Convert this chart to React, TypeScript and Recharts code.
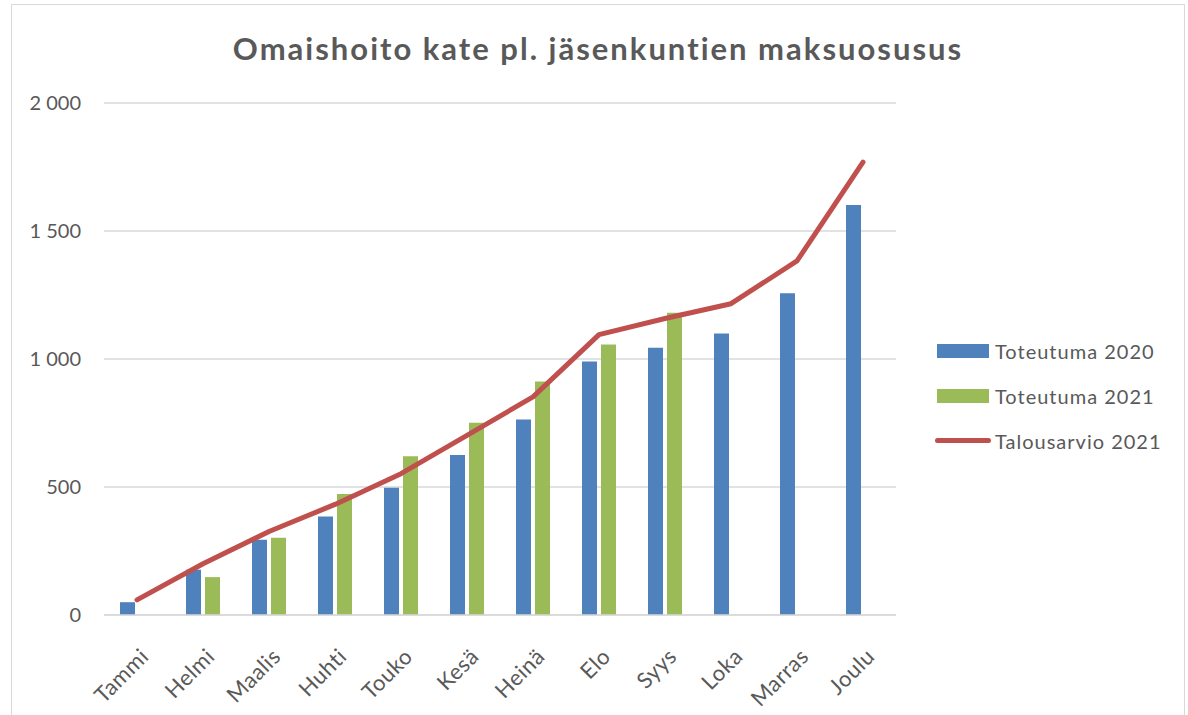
import React from 'react';
import { ComposedChart, Bar, Line, XAxis, YAxis, CartesianGrid, Legend } from 'recharts';

const months = ['Tammi', 'Helmi', 'Maalis', 'Huhti', 'Touko', 'Kesä', 'Heinä', 'Elo', 'Syys', 'Loka', 'Marras', 'Joulu'];
const toteutuma2020 = [50, 177, 294, 385, 497, 625, 764, 990, 1044, 1100, 1257, 1602];
const toteutuma2021: (number | null)[] = [null, 148, 302, 473, 620, 751, 912, 1057, 1181, null, null, null];
const talousarvio2021 = [59, 200, 326, 432, 552, 702, 852, 1095, 1158, 1216, 1383, 1769];
const yTicks = [0, 500, 1000, 1500, 2000];

const data = months.map((m, i) => ({
  month: m,
  t2020: toteutuma2020[i],
  t2021: toteutuma2021[i],
  ta2021: talousarvio2021[i],
}));

const TEXT = '#595959';
const FONT = 'Lato, "Open Sans", sans-serif';

const fmt = (v: number) => String(v).replace(/\B(?=(\d{3})+(?!\d))/g, ' ');

const XTick = (props: any) => {
  const { x, y, payload } = props;
  return (
    <text
      transform={`translate(${x + 7}, ${y + 29}) rotate(-45)`}
      textAnchor="end"
      dominantBaseline="central"
      fill={TEXT}
      fontSize={22}
      letterSpacing={0.5}
      fontFamily={FONT}
    >
      {payload.value}
    </text>
  );
};

const legendItems = [
  { label: 'Toteutuma 2020', color: '#4F81BD', type: 'bar' },
  { label: 'Toteutuma 2021', color: '#9BBB59', type: 'bar' },
  { label: 'Talousarvio 2021', color: '#C0504D', type: 'line' },
];

const LegendContent = () => (
  <div style={{ fontFamily: FONT }}>
    {legendItems.map((it) => (
      <div key={it.label} style={{ display: 'flex', alignItems: 'center', height: 45 }}>
        {it.type === 'bar' ? (
          <div style={{ width: 52, height: 14, background: it.color }} />
        ) : (
          <div style={{ width: 56, height: 5, marginLeft: -2, marginRight: -2, background: it.color, borderRadius: 3 }} />
        )}
        <span style={{ marginLeft: 6, fontSize: 20, letterSpacing: 1, color: TEXT }}>{it.label}</span>
      </div>
    ))}
  </div>
);

export default function App() {
  return (
    <div style={{ position: 'absolute', left: 0, top: 0, width: 1188, height: 715, background: '#fff', overflow: 'hidden' }}>
      <div
        style={{
          position: 'absolute',
          left: 11,
          top: 4,
          width: 1174,
          height: 740,
          border: '1px solid #d9d9d9',
          boxSizing: 'border-box',
        }}
      />
      <div
        style={{
          position: 'absolute',
          left: 0,
          top: 26,
          width: 1196,
          textAlign: 'center',
          fontFamily: FONT,
          fontWeight: 700,
          fontSize: 31,
          letterSpacing: 2,
          color: TEXT,
          lineHeight: '44px',
        }}
      >
        Omaishoito kate pl. jäsenkuntien maksuosusus
      </div>
      <div style={{ position: 'absolute', left: 0, top: 0 }}>
        <ComposedChart
          width={1188}
          height={715}
          data={data}
          margin={{ top: 103, right: 292, left: 0, bottom: 0 }}
        >
          <CartesianGrid vertical={false} stroke="#d9d9d9" strokeWidth={1.5} />
          <XAxis
            dataKey="month"
            height={100}
            interval={0}
            tickLine={false}
            axisLine={{ stroke: '#d9d9d9', strokeWidth: 1.5 }}
            tick={<XTick />}
          />
          <YAxis
            width={104}
            domain={[0, 2000]}
            ticks={yTicks}
            tickFormatter={fmt}
            axisLine={false}
            tickLine={false}
            tickSize={0}
            tickMargin={23}
            tick={{ fill: TEXT, fontSize: 20, fontFamily: FONT }}
          />
          <Bar dataKey="t2020" name="Toteutuma 2020" fill="#4F81BD" barSize={15} isAnimationActive={false} />
          <Bar dataKey="t2021" name="Toteutuma 2021" fill="#9BBB59" barSize={15} isAnimationActive={false} />
          <Line
            dataKey="ta2021"
            name="Talousarvio 2021"
            stroke="#C0504D"
            strokeWidth={5}
            strokeLinecap="round"
            strokeLinejoin="round"
            dot={false}
            activeDot={false}
            type="linear"
            isAnimationActive={false}
          />
          <Legend
            layout="vertical"
            align="center"
            verticalAlign="middle"
            content={<LegendContent />}
            wrapperStyle={{ left: 937, top: 328, width: 250 }}
          />
        </ComposedChart>
      </div>
    </div>
  );
}
